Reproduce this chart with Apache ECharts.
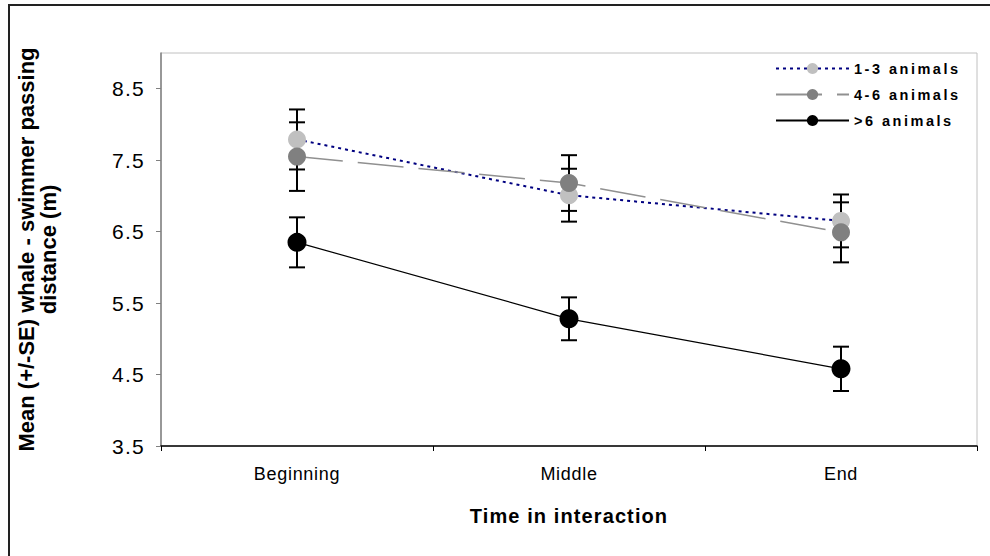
<!DOCTYPE html>
<html>
<head>
<meta charset="utf-8">
<script src="https://cdn.jsdelivr.net/npm/echarts@6/dist/echarts.min.js"></script>
<style>
  html, body { margin: 0; padding: 0; background: #fff; }
  #chart { width: 990px; height: 556px; }
  #chart text[style*="14.5px"] { letter-spacing: 2.5px; }
  #chart text[style*="18px"] { letter-spacing: 0.7px; }
  #chart text[style*="20px"] { letter-spacing: 1.1px; }
  #chart text[style*="21px"] { letter-spacing: 1.3px; }
</style>
</head>
<body>
<div id="chart"></div>
<script>
const categories = ['Beginning', 'Middle', 'End'];
const seriesNames = ['1-3 animals', '4-6 animals', '>6 animals'];
const mean13 = [7.79, 7.01, 6.65];
const se13 = [0.42, 0.37, 0.37];
const mean46 = [7.55, 7.18, 6.49];
const se46 = [0.48, 0.39, 0.42];
const mean6 = [6.35, 5.28, 4.58];
const se6 = [0.35, 0.30, 0.31];
const yTicks = [3.5, 4.5, 5.5, 6.5, 7.5, 8.5];

function errData(mean, se) {
  return mean.map((m, i) => [i, m - se[i], m + se[i]]);
}

function errSeries(mean, se) {
  return {
    type: 'custom',
    z: 1,
    silent: true,
    encode: { x: 0, y: [1, 2] },
    data: errData(mean, se),
    renderItem: function (params, api) {
      const x = api.value(0);
      const lo = api.coord([x, api.value(1)]);
      const hi = api.coord([x, api.value(2)]);
      const hw = 8;
      const st = { stroke: '#000', lineWidth: 2 };
      return {
        type: 'group',
        children: [
          { type: 'line', shape: { x1: lo[0], y1: lo[1], x2: hi[0], y2: hi[1] }, style: st },
          { type: 'line', shape: { x1: lo[0] - hw, y1: lo[1], x2: lo[0] + hw, y2: lo[1] }, style: st },
          { type: 'line', shape: { x1: hi[0] - hw, y1: hi[1], x2: hi[0] + hw, y2: hi[1] }, style: st }
        ]
      };
    }
  };
}

const chart = echarts.init(document.getElementById('chart'), null, { renderer: 'svg' });
chart.setOption({
  animation: false,
  backgroundColor: '#fff',
  textStyle: { fontFamily: 'Liberation Sans, Arial, sans-serif' },
  grid: { left: 161, right: 13, top: 53, bottom: 110, show: true, borderColor: '#c0c0c0', borderWidth: 1, backgroundColor: 'transparent' },
  legend: {
    left: 770, top: 56, orient: 'vertical',
    itemWidth: 73, itemHeight: 14, itemGap: 11,
    data: seriesNames,
    textStyle: { fontSize: 14.5, fontWeight: 'bold', color: '#000', fontFamily: 'Liberation Sans, Arial, sans-serif' }
  },
  xAxis: {
    type: 'category',
    data: categories,
    boundaryGap: true,
    name: 'Time in interaction',
    nameLocation: 'middle',
    nameGap: 60,
    nameTextStyle: { fontSize: 20, fontWeight: 'bold', color: '#000' },
    axisLine: { lineStyle: { color: '#000', width: 1.5 } },
    axisTick: { show: true, length: 5, lineStyle: { color: '#000' } },
    axisLabel: { fontSize: 18, color: '#000', margin: 19 },
    splitLine: { show: false }
  },
  yAxis: {
    type: 'value',
    min: 3.5, max: 9,
    name: 'Mean (+/-SE) whale - swimmer passing\ndistance (m)',
    nameLocation: 'middle',
    nameRotate: 90,
    nameGap: 102,
    nameTextStyle: { fontSize: 22, fontWeight: 'bold', color: '#000', lineHeight: 22 },
    axisLine: { show: true, lineStyle: { color: '#808080', width: 1.5 } },
    axisTick: { show: true, length: 5, lineStyle: { color: '#808080' }, customValues: yTicks },
    axisLabel: { fontSize: 21, color: '#000', margin: 16, customValues: yTicks, formatter: v => v.toFixed(1) },
    splitLine: { show: false }
  },
  graphic: [
    { type: 'line', shape: { x1: 8, y1: 5, x2: 990, y2: 5 }, style: { stroke: '#222', lineWidth: 2 } },
    { type: 'line', shape: { x1: 9, y1: 5, x2: 9, y2: 556 }, style: { stroke: '#222', lineWidth: 2 } }
  ],
  series: [
    errSeries(mean13, se13),
    errSeries(mean46, se46),
    errSeries(mean6, se6),
    {
      name: seriesNames[0], type: 'line', z: 3, data: mean13,
      symbol: 'circle', symbolSize: 18,
      itemStyle: { color: '#c0c0c0' },
      lineStyle: { color: '#000080', width: 2, type: [3, 4] }
    },
    {
      name: seriesNames[1], type: 'line', z: 4, data: mean46,
      symbol: 'circle', symbolSize: 18,
      itemStyle: { color: '#808080' },
      lineStyle: { color: '#909090', width: 1.5, type: [46, 15] }
    },
    {
      name: seriesNames[2], type: 'line', z: 5, data: mean6,
      symbol: 'circle', symbolSize: 19,
      itemStyle: { color: '#000' },
      lineStyle: { color: '#000', width: 1.2 }
    }
  ]
});
</script>
</body>
</html>
